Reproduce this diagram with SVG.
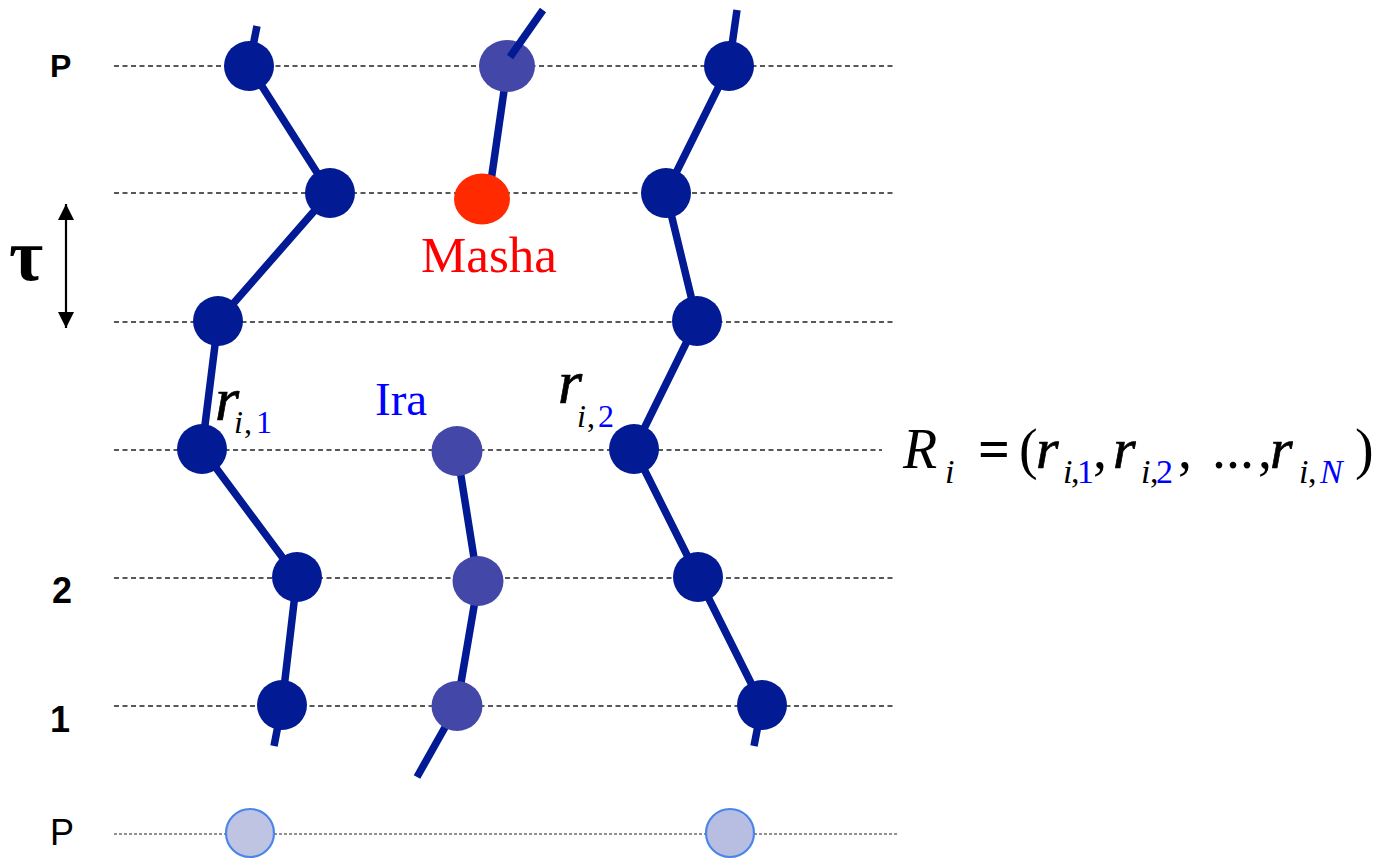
<svg xmlns="http://www.w3.org/2000/svg" width="1378" height="859" viewBox="0 0 1378 859">
<defs>
<style>
.grid{stroke:#222;stroke-width:1.3;stroke-dasharray:5 3.5;fill:none}
.grid2{stroke:#222;stroke-width:1.2;stroke-dasharray:3 2;fill:none}
.bond{stroke:#021A93;stroke-width:7.5;fill:none;stroke-linecap:butt;stroke-linejoin:round}
.bead{fill:#021A93}
.ira{fill:#4348A8}
.ghost{fill:#BFC4E3;stroke:#4A86E8;stroke-width:2.2}
.lab{font-family:'Liberation Sans',Arial,sans-serif;fill:#000}
.m{font-family:'Liberation Serif','Times New Roman',serif;fill:#000}
.it{font-style:italic}
.big{stroke:#000;stroke-width:0.7}
.blue{fill:#0000FF}
</style>
<marker id="ah" viewBox="0 0 16 16" refX="16" refY="8" markerWidth="16" markerHeight="16" markerUnits="userSpaceOnUse" orient="auto-start-reverse">
<path d="M0,0 L16,8 L0,16 Z" fill="#000"/>
</marker>
</defs>
<rect width="1378" height="859" fill="#fff"/>

<g id="gridlines">
<line class="grid" x1="114" y1="66" x2="893" y2="66"/>
<line class="grid" x1="114" y1="193" x2="893" y2="193"/>
<line class="grid" x1="114" y1="322" x2="893" y2="322"/>
<line class="grid" x1="114" y1="450" x2="882" y2="450"/>
<line class="grid" x1="114" y1="578" x2="893" y2="578"/>
<line class="grid" x1="114" y1="706" x2="893" y2="706"/>
<line class="grid2" x1="114" y1="834" x2="898" y2="834"/>
</g>

<g id="labels">
<text class="lab" x="50" y="77" font-size="32" font-weight="bold">P</text>
<text class="lab" x="52" y="603" font-size="36" font-weight="bold">2</text>
<text class="lab" x="50" y="732" font-size="36" font-weight="bold">1</text>
<text class="lab" x="50" y="845" font-size="36">P</text>
<text class="m" x="9" y="280" font-size="74" font-weight="bold">τ</text>
</g>

<g id="tau-arrow">
<line x1="66" y1="204" x2="66" y2="328" stroke="#000" stroke-width="2.2" marker-start="url(#ah)" marker-end="url(#ah)"/>
</g>

<g id="connectors">
<polyline class="bond" points="257,26 249,66 330,193 218,321 202,449 297,577 282,705 274,746"/>
<polyline class="bond" points="737,10 729,66 666,193 697,321 634,449 698,577 762,705 754,746"/>
<line class="bond" x1="507" y1="70" x2="489" y2="195"/>
<polyline class="bond" points="457,451 478,583 457,706 417,777"/>
</g>

<g id="chain1">
<circle class="bead" cx="249" cy="66" r="25"/>
<circle class="bead" cx="330" cy="193" r="25"/>
<circle class="bead" cx="218" cy="321" r="25"/>
<circle class="bead" cx="202" cy="449" r="25"/>
<circle class="bead" cx="297" cy="577" r="25"/>
<circle class="bead" cx="282" cy="705" r="25"/>
</g>

<g id="chain3">
<circle class="bead" cx="729" cy="66" r="25"/>
<circle class="bead" cx="666" cy="193" r="25"/>
<circle class="bead" cx="697" cy="321" r="25"/>
<circle class="bead" cx="634" cy="449" r="25"/>
<circle class="bead" cx="698" cy="577" r="25"/>
<circle class="bead" cx="762" cy="705" r="25"/>
</g>

<g id="masha-chain">
<ellipse class="ira" cx="507" cy="66" rx="28" ry="26"/>
<line class="bond" x1="510" y1="57" x2="543" y2="10"/>
<ellipse cx="482" cy="199" rx="28" ry="25.5" fill="#FF2A00"/>
<text class="m" x="421" y="272" font-size="51" style="fill:#FF0000" textLength="136" lengthAdjust="spacing">Masha</text>
</g>

<g id="ira-chain">
<ellipse class="ira" cx="457" cy="451" rx="25.5" ry="25"/>
<ellipse class="ira" cx="478" cy="581" rx="25.5" ry="25"/>
<ellipse class="ira" cx="457" cy="706" rx="25.5" ry="25"/>
<text class="m" x="375" y="415" font-size="47" style="fill:#0000FF">Ira</text>
</g>

<g id="ghosts">
<circle class="ghost" cx="250" cy="833" r="24"/>
<circle class="ghost" cx="730" cy="833" r="24" style="fill:#B8BEE1"/>
</g>

<g id="r-labels">
<text class="m"><tspan x="215" y="420" font-size="62" class="it big">r</tspan><tspan x="234" y="433" font-size="32" class="it">i</tspan><tspan x="244" y="433" font-size="32">,</tspan><tspan x="256" y="433" font-size="32" class="blue">1</tspan></text>
<text class="m"><tspan x="558" y="403" font-size="62" class="it big">r</tspan><tspan x="577" y="427" font-size="32" class="it">i</tspan><tspan x="587" y="427" font-size="32">,</tspan><tspan x="598" y="427" font-size="32" class="blue">2</tspan></text>
</g>

<g id="formula">
<text class="m"><tspan x="903" y="468" font-size="56" class="it">R</tspan><tspan x="945" y="483" font-size="34" class="it">i</tspan><tspan x="978" y="468" font-size="56" font-weight="bold">=</tspan><tspan x="1019" y="468" font-size="56">(</tspan><tspan x="1036" y="468" font-size="58" class="it big">r</tspan><tspan x="1063" y="483" font-size="34" class="it">i</tspan><tspan x="1071" y="483" font-size="34">,</tspan><tspan x="1077" y="483" font-size="34" class="blue">1</tspan><tspan x="1093" y="468" font-size="56">,</tspan><tspan x="1113" y="468" font-size="58" class="it big">r</tspan><tspan x="1141" y="483" font-size="34" class="it">i</tspan><tspan x="1150" y="483" font-size="34">,</tspan><tspan x="1156" y="483" font-size="34" class="blue">2</tspan><tspan x="1178" y="468" font-size="56">,</tspan><tspan x="1212" y="468" font-size="56">...</tspan><tspan x="1258" y="468" font-size="56">,</tspan><tspan x="1270" y="468" font-size="58" class="it big">r</tspan><tspan x="1299" y="483" font-size="34" class="it">i</tspan><tspan x="1308" y="483" font-size="34">,</tspan><tspan x="1320" y="483" font-size="34" class="it blue">N</tspan><tspan x="1355" y="468" font-size="56">)</tspan></text>
</g>
</svg>
